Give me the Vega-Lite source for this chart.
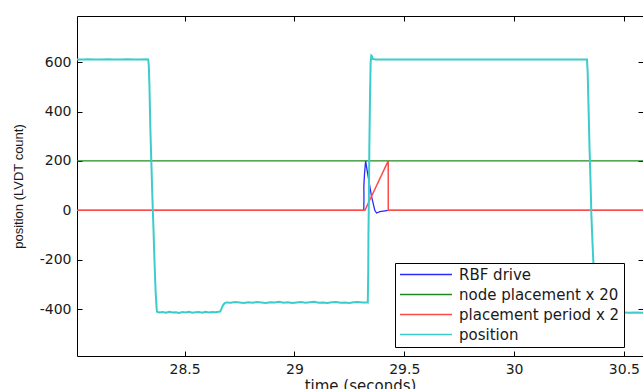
{
  "$schema": "https://vega.github.io/schema/vega-lite/v6.json",
  "width": 566,
  "height": 340,
  "autosize": "none",
  "padding": {"left": 77, "top": 16, "right": 0, "bottom": 33},
  "background": "white",
  "config": {
    "view": {"stroke": "black", "strokeWidth": 1},
    "axis": {
      "grid": false,
      "domain": false,
      "tickColor": "black",
      "tickSize": -5,
      "labelFont": "DejaVu Sans",
      "labelFontSize": 14,
      "labelColor": "#1a1a1a",
      "titleFont": "DejaVu Sans",
      "titleFontWeight": "normal",
      "titleColor": "#1a1a1a"
    }
  },
  "datasets": {
    "series": [
      {"s": "RBF drive", "t": 28.010, "v": 0},
      {"s": "RBF drive", "t": 29.3155, "v": 0},
      {"s": "RBF drive", "t": 29.3165, "v": 45},
      {"s": "RBF drive", "t": 29.3160, "v": 97},
      {"s": "RBF drive", "t": 29.3185, "v": 140},
      {"s": "RBF drive", "t": 29.3240, "v": 200},
      {"s": "RBF drive", "t": 29.3330, "v": 151},
      {"s": "RBF drive", "t": 29.3510, "v": 56},
      {"s": "RBF drive", "t": 29.3660, "v": 0},
      {"s": "RBF drive", "t": 29.3740, "v": -11},
      {"s": "RBF drive", "t": 29.3890, "v": -5},
      {"s": "RBF drive", "t": 29.4270, "v": 0},
      {"s": "RBF drive", "t": 30.590, "v": 0},

      {"s": "node placement x 20", "t": 28.010, "v": 200},
      {"s": "node placement x 20", "t": 30.590, "v": 200},

      {"s": "placement period x 2", "t": 28.010, "v": 0},
      {"s": "placement period x 2", "t": 29.321, "v": 0},
      {"s": "placement period x 2", "t": 29.427, "v": 200},
      {"s": "placement period x 2", "t": 29.4272, "v": 0},
      {"s": "placement period x 2", "t": 30.590, "v": 0},

      {"s": "position", "t": 28.010, "v": 611},
      {"s": "position", "t": 28.040, "v": 611},
      {"s": "position", "t": 28.060, "v": 612},
      {"s": "position", "t": 28.090, "v": 611},
      {"s": "position", "t": 28.120, "v": 611},
      {"s": "position", "t": 28.150, "v": 612},
      {"s": "position", "t": 28.180, "v": 611},
      {"s": "position", "t": 28.210, "v": 611},
      {"s": "position", "t": 28.240, "v": 612},
      {"s": "position", "t": 28.270, "v": 611},
      {"s": "position", "t": 28.300, "v": 611},
      {"s": "position", "t": 28.320, "v": 612},
      {"s": "position", "t": 28.334, "v": 611},
      {"s": "position", "t": 28.337, "v": 585},
      {"s": "position", "t": 28.340, "v": 500},
      {"s": "position", "t": 28.344, "v": 330},
      {"s": "position", "t": 28.349, "v": 180},
      {"s": "position", "t": 28.353, "v": 60},
      {"s": "position", "t": 28.358, "v": -70},
      {"s": "position", "t": 28.363, "v": -210},
      {"s": "position", "t": 28.368, "v": -330},
      {"s": "position", "t": 28.372, "v": -390},
      {"s": "position", "t": 28.374, "v": -411},
      {"s": "position", "t": 28.385, "v": -414},
      {"s": "position", "t": 28.400, "v": -412},
      {"s": "position", "t": 28.415, "v": -415},
      {"s": "position", "t": 28.430, "v": -411},
      {"s": "position", "t": 28.445, "v": -414},
      {"s": "position", "t": 28.460, "v": -413},
      {"s": "position", "t": 28.475, "v": -416},
      {"s": "position", "t": 28.490, "v": -412},
      {"s": "position", "t": 28.505, "v": -414},
      {"s": "position", "t": 28.520, "v": -411},
      {"s": "position", "t": 28.535, "v": -415},
      {"s": "position", "t": 28.550, "v": -413},
      {"s": "position", "t": 28.565, "v": -412},
      {"s": "position", "t": 28.580, "v": -415},
      {"s": "position", "t": 28.595, "v": -411},
      {"s": "position", "t": 28.610, "v": -414},
      {"s": "position", "t": 28.625, "v": -412},
      {"s": "position", "t": 28.640, "v": -413},
      {"s": "position", "t": 28.655, "v": -411},
      {"s": "position", "t": 28.662, "v": -410},
      {"s": "position", "t": 28.668, "v": -398},
      {"s": "position", "t": 28.675, "v": -384},
      {"s": "position", "t": 28.683, "v": -376},
      {"s": "position", "t": 28.690, "v": -373},
      {"s": "position", "t": 28.710, "v": -374},
      {"s": "position", "t": 28.730, "v": -371},
      {"s": "position", "t": 28.750, "v": -373},
      {"s": "position", "t": 28.770, "v": -375},
      {"s": "position", "t": 28.790, "v": -372},
      {"s": "position", "t": 28.810, "v": -374},
      {"s": "position", "t": 28.830, "v": -371},
      {"s": "position", "t": 28.850, "v": -373},
      {"s": "position", "t": 28.870, "v": -375},
      {"s": "position", "t": 28.890, "v": -372},
      {"s": "position", "t": 28.910, "v": -373},
      {"s": "position", "t": 28.930, "v": -370},
      {"s": "position", "t": 28.950, "v": -374},
      {"s": "position", "t": 28.970, "v": -372},
      {"s": "position", "t": 28.990, "v": -375},
      {"s": "position", "t": 29.010, "v": -373},
      {"s": "position", "t": 29.030, "v": -371},
      {"s": "position", "t": 29.050, "v": -374},
      {"s": "position", "t": 29.070, "v": -372},
      {"s": "position", "t": 29.090, "v": -370},
      {"s": "position", "t": 29.110, "v": -374},
      {"s": "position", "t": 29.130, "v": -373},
      {"s": "position", "t": 29.150, "v": -375},
      {"s": "position", "t": 29.170, "v": -372},
      {"s": "position", "t": 29.190, "v": -371},
      {"s": "position", "t": 29.210, "v": -374},
      {"s": "position", "t": 29.230, "v": -373},
      {"s": "position", "t": 29.250, "v": -375},
      {"s": "position", "t": 29.270, "v": -372},
      {"s": "position", "t": 29.290, "v": -371},
      {"s": "position", "t": 29.310, "v": -373},
      {"s": "position", "t": 29.330, "v": -372},
      {"s": "position", "t": 29.334, "v": -373},
      {"s": "position", "t": 29.336, "v": -250},
      {"s": "position", "t": 29.337, "v": -100},
      {"s": "position", "t": 29.339, "v": 50},
      {"s": "position", "t": 29.341, "v": 250},
      {"s": "position", "t": 29.344, "v": 450},
      {"s": "position", "t": 29.347, "v": 600},
      {"s": "position", "t": 29.350, "v": 627},
      {"s": "position", "t": 29.353, "v": 624},
      {"s": "position", "t": 29.356, "v": 613},
      {"s": "position", "t": 29.370, "v": 611},
      {"s": "position", "t": 29.500, "v": 611},
      {"s": "position", "t": 29.700, "v": 611},
      {"s": "position", "t": 29.900, "v": 611},
      {"s": "position", "t": 30.100, "v": 611},
      {"s": "position", "t": 30.332, "v": 611},
      {"s": "position", "t": 30.335, "v": 560},
      {"s": "position", "t": 30.339, "v": 420},
      {"s": "position", "t": 30.343, "v": 270},
      {"s": "position", "t": 30.348, "v": 120},
      {"s": "position", "t": 30.352, "v": -20},
      {"s": "position", "t": 30.357, "v": -130},
      {"s": "position", "t": 30.362, "v": -230},
      {"s": "position", "t": 30.368, "v": -350},
      {"s": "position", "t": 30.372, "v": -413},
      {"s": "position", "t": 30.400, "v": -415},
      {"s": "position", "t": 30.430, "v": -414},
      {"s": "position", "t": 30.460, "v": -416},
      {"s": "position", "t": 30.490, "v": -413},
      {"s": "position", "t": 30.520, "v": -415},
      {"s": "position", "t": 30.550, "v": -414},
      {"s": "position", "t": 30.590, "v": -415}
    ]
  },
  "data": {"name": "series"},
  "transform": [{"window": [{"op": "row_number", "as": "i"}]}],
  "resolve": {"axis": {"x": "independent", "y": "independent"}},
  "encoding": {
    "color": {
      "field": "s",
      "type": "nominal",
      "scale": {
        "domain": ["RBF drive", "node placement x 20", "placement period x 2", "position"],
        "range": ["#2b2bff", "#1e8a1e", "#ff4a4a", "#3ccccc"]
      },
      "legend": {
        "title": null,
        "orient": "none",
        "legendX": 318,
        "legendY": 247,
        "symbolType": "stroke",
        "symbolSize": 2704,
        "symbolStrokeWidth": 1.5,
        "clipHeight": 15,
        "rowPadding": 4,
        "padding": 4,
        "labelOffset": 6,
        "labelFont": "DejaVu Sans",
        "labelFontSize": 15,
        "labelColor": "#1a1a1a",
        "labelLimit": 300,
        "fillColor": "white",
        "strokeColor": "black"
      }
    }
  },
  "layer": [
    {
      "transform": [{"filter": "datum.s === 'RBF drive'"}],
      "mark": {"type": "line", "strokeWidth": 1.3, "clip": true},
      "encoding": {
        "x": {
          "field": "t", "type": "quantitative",
          "scale": {"domain": [28.010, 30.587], "nice": false, "zero": false},
          "axis": {
            "orient": "bottom",
            "values": [28.5, 29, 29.5, 30, 30.5],
            "labelExpr": "'' + datum.value",
            "labelPadding": 11,
            "title": "time (seconds)",
            "titleFontSize": 15,
            "titlePadding": 2
          }
        },
        "y": {
          "field": "v", "type": "quantitative",
          "scale": {"domain": [-590, 787], "nice": false, "zero": false},
          "axis": {
            "orient": "left",
            "values": [-400, -200, 0, 200, 400, 600],
            "labelExpr": "datum.value < 0 ? '-' + abs(datum.value) : '' + datum.value",
            "labelPadding": 11,
            "title": "position (LVDT count)",
            "titleFont": "Liberation Sans",
            "titleFontSize": 13,
            "titlePadding": 14
          }
        },
        "order": {"field": "i", "type": "quantitative"}
      }
    },
    {
      "transform": [{"filter": "datum.s === 'node placement x 20'"}],
      "mark": {"type": "line", "strokeWidth": 1.2, "clip": true},
      "encoding": {
        "x": {
          "field": "t", "type": "quantitative",
          "axis": {"orient": "top", "values": [28.5, 29, 29.5, 30, 30.5], "labels": false, "title": null}
        },
        "y": {
          "field": "v", "type": "quantitative",
          "axis": {"orient": "right", "values": [-400, -200, 0, 200, 400, 600], "labels": false, "title": null}
        }
      }
    },
    {
      "transform": [{"filter": "datum.s === 'placement period x 2'"}],
      "mark": {"type": "line", "strokeWidth": 1.5, "clip": true},
      "encoding": {
        "x": {"field": "t", "type": "quantitative", "axis": null},
        "y": {"field": "v", "type": "quantitative", "axis": null},
        "order": {"field": "i", "type": "quantitative"}
      }
    },
    {
      "transform": [{"filter": "datum.s === 'position'"}],
      "mark": {"type": "line", "strokeWidth": 2, "clip": true},
      "encoding": {
        "x": {"field": "t", "type": "quantitative", "axis": null},
        "y": {"field": "v", "type": "quantitative", "axis": null},
        "order": {"field": "i", "type": "quantitative"}
      }
    }
  ]
}
